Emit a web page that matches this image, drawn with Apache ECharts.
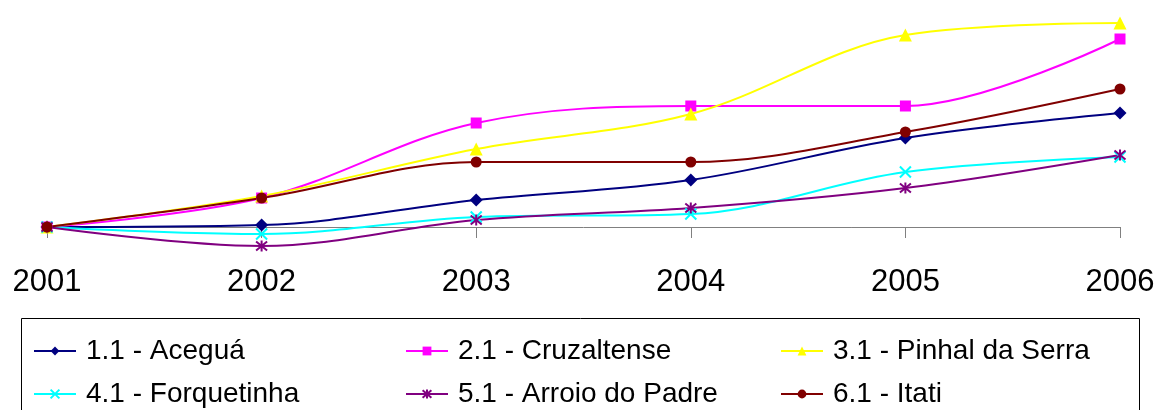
<!DOCTYPE html>
<html>
<head>
<meta charset="utf-8">
<script src="https://cdn.jsdelivr.net/npm/echarts@6/dist/echarts.min.js"></script>
<style>
  html, body { margin: 0; padding: 0; background: #fff; }
  #chart { width: 1160px; height: 410px; }
</style>
</head>
<body>
<div id="chart"></div>
<script>
// anos
const years = ["2001", "2002", "2003", "2004", "2005", "2006"]

// valores (escala relativa, 2001 = 0)
const acegua = [0, 2, 27, 47, 89, 114]
const cruzaltense = [0, 29, 104, 121, 121, 188]
const pinhalDaSerra = [0, 31, 78, 113, 192, 204]
const forquetinha = [0, -7, 10, 13, 55, 70]
const arroioDoPadre = [0, -19, 7, 19, 39, 72]
const itati = [0, 29, 65, 65, 95, 138]

const names = [
    "1.1 - Aceguá",
    "2.1 - Cruzaltense",
    "3.1 - Pinhal da Serra",
    "4.1 - Forquetinha",
    "5.1 - Arroio do Padre",
    "6.1 - Itati",
]

const crossPath = "path://M0,0L10,10M10,0L0,10"
const starPath = "path://M0,0L10,10M10,0L0,10M5,-1L5,11"

const font = "'Liberation Sans', Arial, sans-serif"

function makeSeries(name, data, color, symbol, size, stroke) {
    return {
        name,
        type: "line",
        data,
        smooth: 0.35,
        symbol,
        symbolSize: size,
        showSymbol: true,
        lineStyle: { width: 2, color },
        itemStyle: stroke
            ? { color: "rgba(0,0,0,0)", borderColor: color, borderWidth: 2 }
            : { color, borderWidth: 0 },
        emphasis: { disabled: true },
    }
}

function makeLegend(left, data) {
    return {
        orient: "vertical",
        left,
        top: 336,
        width: 360,
        height: 200,
        padding: 0,
        itemWidth: 42,
        itemHeight: 11,
        itemGap: 13,
        selectedMode: false,
        data,
        textStyle: {
            fontFamily: font,
            fontSize: 28,
            color: "#000",
            lineHeight: 30,
            padding: [0, 0, 0, 5],
        },
    }
}

const chart = echarts.init(document.getElementById("chart"))

chart.setOption({
    animation: false,
    backgroundColor: "#fff",
    grid: { left: 47, right: 40, top: 17, bottom: 153 },
    xAxis: {
        type: "category",
        data: years,
        boundaryGap: false,
        axisLine: { lineStyle: { color: "#808080", width: 1 } },
        axisTick: { show: true, length: 11, lineStyle: { color: "#808080" } },
        axisLabel: {
            fontFamily: font,
            fontSize: 31,
            color: "#000",
            margin: 10,
        },
        splitLine: { show: false },
    },
    yAxis: {
        type: "value",
        min: -30,
        max: 210,
        show: false,
    },
    legend: [
        makeLegend(33, [names[0], names[3]]),
        makeLegend(405, [names[1], names[4]]),
        makeLegend(780, [names[2], names[5]]),
    ],
    graphic: [
        {
            type: "rect",
            shape: { x: 21.5, y: 318.5, width: 1118, height: 120 },
            style: { fill: "none", stroke: "#000", lineWidth: 1 },
            silent: true,
        },
    ],
    series: [
        makeSeries(names[0], acegua, "#000080", "diamond", 13),
        makeSeries(names[1], cruzaltense, "#FF00FF", "rect", 11),
        makeSeries(names[2], pinhalDaSerra, "#FFFF00", "triangle", 13),
        makeSeries(names[3], forquetinha, "#00FFFF", crossPath, 11, true),
        makeSeries(names[4], arroioDoPadre, "#800080", starPath, 11, true),
        makeSeries(names[5], itati, "#800000", "circle", 11),
    ],
})
</script>
</body>
</html>
